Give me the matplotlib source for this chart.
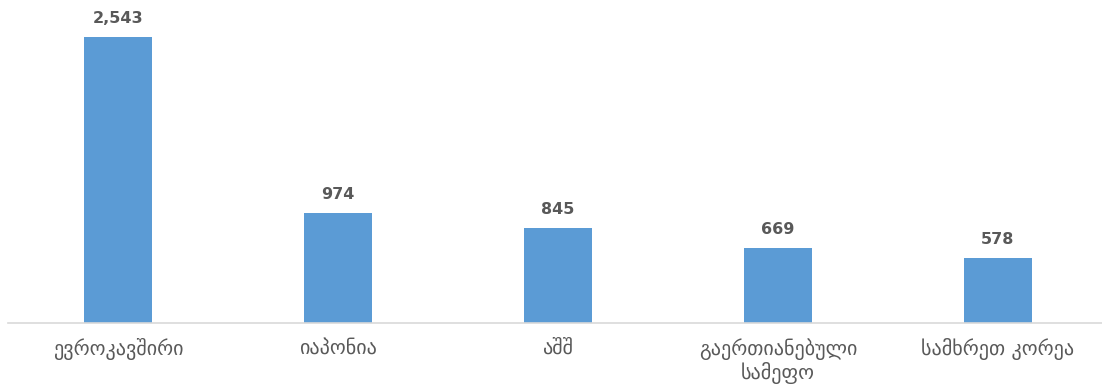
import matplotlib
matplotlib.use("Agg")
import matplotlib.pyplot as plt

categories = ["ევროკავშირი", "იაპონია", "აშშ", "გაერთიანებული\nსამეფო", "სამხრეთ კორეა"]
values = [2543, 974, 845, 669, 578]

plt.rcParams['font.family'] = ['DejaVu Sans']

fig = plt.figure(figsize=(11.02, 3.84), dpi=100)
ax = fig.add_axes([8 / 1102, 61 / 384, 1094 / 1102, 323 / 384])

x = list(range(len(categories)))
bars = ax.bar(x, values, width=68 / 220, color="#5B9BD5", zorder=2)

ax.set_xlim(-0.5, 4.5 - 6 / 220)
ax.set_ylim(0, 2871)

for rect, v in zip(bars, values):
    ax.annotate(f"{v:,}", (rect.get_x() + rect.get_width() / 2, v),
                xytext=(0, 8), textcoords="offset points",
                ha="center", va="bottom", fontsize=11.5, fontweight="bold",
                color="#595959")

ax.set_xticks(x)
ax.set_xticklabels(categories, fontsize=14.5, color="#595959", linespacing=1.12)
ax.tick_params(axis="x", length=0, pad=11)
ax.set_yticks([])

for side in ["top", "right", "left"]:
    ax.spines[side].set_visible(False)
ax.spines["bottom"].set_color("#D9D9D9")
ax.spines["bottom"].set_linewidth(1.2)

fig.savefig("out.png", dpi=100)
